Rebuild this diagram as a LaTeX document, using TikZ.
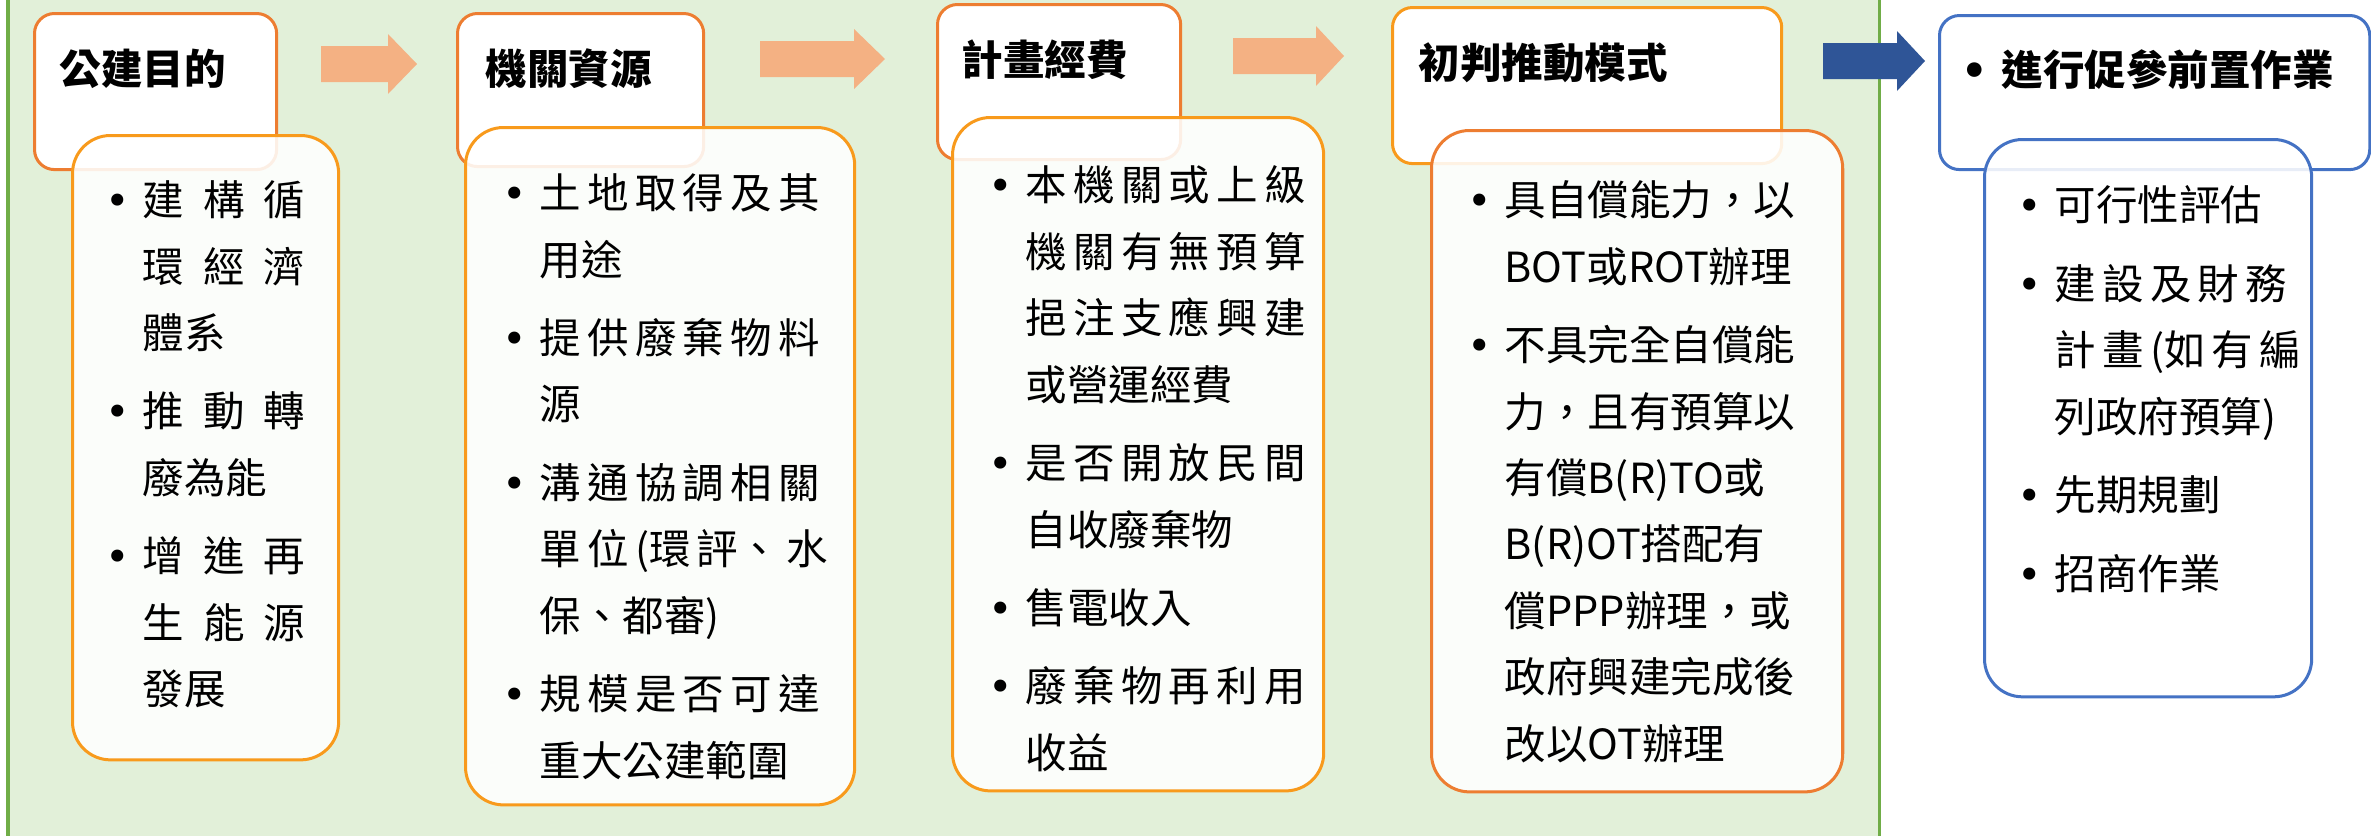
\documentclass[tikz,border=0pt]{standalone}
\usepackage{fontspec}
\setmainfont{Noto Sans CJK TC}
\newfontfamily\dotfont{DejaVu Sans}
\usepackage{tikz}
\usetikzlibrary{positioning}

\definecolor{bg-green}{RGB}{226,240,217}
\definecolor{line-green}{RGB}{112,173,71}
\definecolor{dark-orange}{RGB}{237,125,49}
\definecolor{amber}{RGB}{248,154,28}
\definecolor{arrow-orange}{RGB}{244,177,131}
\definecolor{arrow-blue}{RGB}{47,85,151}
\definecolor{box-blue}{RGB}{68,114,196}

\newcommand{\bul}{\makebox[0.37cm][l]{\dotfont •}}
\newcommand{\ind}{\hspace*{0.37cm}}
\newcommand{\jus}[2]{\makebox[#1][s]{#2}}
% block arrow: colour, start, end of shaft, tip, middle
\newcommand{\blockarrow}[5]{%
  \fill[#1] (#2,#5-18) -- (#3,#5-18) -- (#3,#5-30) -- (#4,#5)
    -- (#3,#5+30) -- (#3,#5+18) -- (#2,#5+18) -- cycle;}

\tikzset{
  titlebox/.style={draw=#1, line width=0.03cm, fill=white, rounded corners=0.2cm,
    anchor=north west, inner sep=0pt},
  bodybox/.style={draw=#1, line width=0.03cm, fill=white, fill opacity=0.88,
    rounded corners=0.38cm, anchor=north west, inner sep=0pt},
  titletext/.style={anchor=west, inner sep=0pt,
    font=\bfseries\fontsize{11.8pt}{14pt}\selectfont},
  bodytext/.style={anchor=north west, inner sep=0pt, align=left,
    font=\fontsize{11.8pt}{18.9pt}\selectfont},
}

\begin{document}
\begin{tikzpicture}[x=0.01cm, y=-0.01cm]
  \useasboundingbox (0,0) rectangle (2371,836);
  \fill[white] (0,0) rectangle (2371,836);

  % green area
  \fill[bg-green] (8,0) rectangle (1879,836);
  \draw[line-green, line width=0.03cm] (8,0) -- (8,836);
  \draw[line-green, line width=0.03cm] (1879,0) -- (1879,836);

  % title boxes
  \node[titlebox=dark-orange, minimum width=2.42cm, minimum height=1.56cm] (t1) at (33,12) {};
  \node[titlebox=dark-orange, minimum width=2.46cm, minimum height=1.53cm] (t2) at (456,12) {};
  \node[titlebox=dark-orange, minimum width=2.43cm, minimum height=1.55cm] (t3) at (936,3) {};
  \node[titlebox=amber, minimum width=3.89cm, minimum height=1.56cm] (t4) at (1391,6) {};
  \node[titlebox=box-blue, minimum width=4.30cm, minimum height=1.54cm] (t5) at (1938,14) {};

  \node[titletext] (t1txt) at (59,69) {公建目的};
  \node[titletext] (t2txt) at (485,69) {機關資源};
  \node[titletext] (t3txt) at (961,60) {計畫經費};
  \node[titletext] (t4txt) at (1418,63) {初判推動模式};
  \node[titletext] (t5txt) at (1961,70) {\makebox[0.40cm][l]{\dotfont •}進行促參前置作業};

  % body boxes
  \node[bodybox=amber, minimum width=2.66cm, minimum height=6.24cm] (b1) at (71,134) {};
  \node[bodybox=amber, minimum width=3.89cm, minimum height=6.77cm] (b2) at (464,126) {};
  \node[bodybox=amber, minimum width=3.71cm, minimum height=6.73cm] (b3) at (951,116) {};
  \node[bodybox=dark-orange, minimum width=4.11cm, minimum height=6.61cm] (b4) at (1430,129) {};
  \node[bodybox=box-blue, minimum width=3.27cm, minimum height=5.57cm] (b5) at (1983,138) {};

  \node[bodytext] (b1txt) at (105,180) {%
    \bul\jus{1.62cm}{建 構 循}\\
    \ind\jus{1.62cm}{環 經 濟}\\
    \ind 體系\\[0.12cm]
    \bul\jus{1.62cm}{推 動 轉}\\
    \ind 廢為能\\[0.12cm]
    \bul\jus{1.62cm}{增 進 再}\\
    \ind\jus{1.62cm}{生 能 源}\\
    \ind 發展};

  \node[bodytext] (b2txt) at (502,173) {%
    \bul\jus{2.78cm}{土 地 取 得 及 其}\\
    \ind 用途\\[0.12cm]
    \bul\jus{2.78cm}{提 供 廢 棄 物 料}\\
    \ind 源\\[0.12cm]
    \bul\jus{2.78cm}{溝 通 協 調 相 關}\\
    \ind\jus{2.78cm}{單 位 (環 評、 水}\\
    \ind 保、都審)\\[0.12cm]
    \bul\jus{2.78cm}{規 模 是 否 可 達}\\
    \ind 重大公建範圍};

  \node[bodytext] (b3txt) at (988,165) {%
    \bul\jus{2.60cm}{本 機 關 或 上 級}\\
    \ind\jus{2.60cm}{機 關 有 無 預 算}\\
    \ind\jus{2.60cm}{挹 注 支 應 興 建}\\
    \ind 或營運經費\\[0.12cm]
    \bul\jus{2.60cm}{是 否 開 放 民 間}\\
    \ind 自收廢棄物\\[0.12cm]
    \bul 售電收入\\[0.12cm]
    \bul\jus{2.60cm}{廢 棄 物 再 利 用}\\
    \ind 收益};

  \node[bodytext] (b4txt) at (1467,180) {%
    \bul 具自償能力，以\\
    \ind BOT或ROT辦理\\[0.12cm]
    \bul 不具完全自償能\\
    \ind 力，且有預算以\\
    \ind 有償B(R)TO或\\
    \ind B(R)OT搭配有\\
    \ind 償PPP辦理，或\\
    \ind 政府興建完成後\\
    \ind 改以OT辦理};

  \node[bodytext] (b5txt) at (2017,185) {%
    \bul 可行性評估\\[0.12cm]
    \bul\jus{2.20cm}{建 設 及 財 務}\\
    \ind\jus{2.20cm}{計 畫 (如 有 編}\\
    \ind 列政府預算)\\[0.12cm]
    \bul 先期規劃\\[0.12cm]
    \bul 招商作業};

  % arrows between the steps
  \blockarrow{arrow-orange}{321}{388}{417}{64}
  \blockarrow{arrow-orange}{760}{854}{885}{59}
  \blockarrow{arrow-orange}{1233}{1316}{1344}{56}
  \blockarrow{arrow-blue}{1823}{1897}{1925}{61}
\end{tikzpicture}
\end{document}
